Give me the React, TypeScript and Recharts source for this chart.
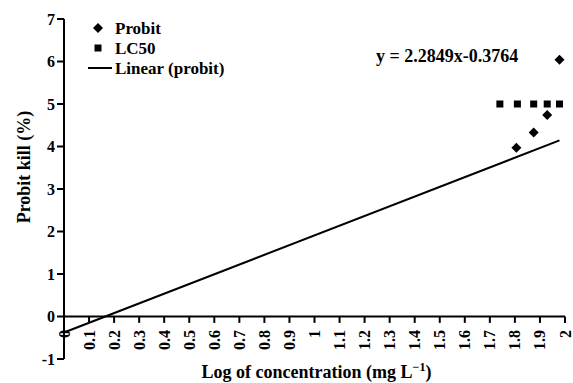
import { Legend, ReferenceDot, ReferenceLine, Scatter, ScatterChart, XAxis, YAxis } from 'recharts';

const FONT = '"Liberation Serif", "Times New Roman", serif';

// log10 of concentrations and the probit kill
const probitLogConc = [1.806, 1.875, 1.929, 1.978];
const probitKill = [3.97, 4.33, 4.74, 6.04];

const lc50LogConc = [1.74, 1.81, 1.875, 1.929, 1.978];
const lc50Probit = [5, 5, 5, 5, 5];

// end points of the fitted trend line y = 2.2849x - 0.3764
const trendLogConc = [0, 1.978];
const trendProbit = [-0.376, 4.143];

const seriesNames = ['Probit', 'LC50', 'Linear (probit)'];

const xTicks = [0, 0.1, 0.2, 0.3, 0.4, 0.5, 0.6, 0.7, 0.8, 0.9, 1, 1.1, 1.2, 1.3, 1.4, 1.5, 1.6, 1.7, 1.8, 1.9, 2];
const yTicks = [-1, 0, 1, 2, 3, 4, 5, 6, 7];

const probitData = probitLogConc.map((x, i) => ({ x, y: probitKill[i] }));
const lc50Data = lc50LogConc.map((x, i) => ({ x, y: lc50Probit[i] }));
const trendData = trendLogConc.map((x, i) => ({ x, y: trendProbit[i] }));

const Diamond = ({ cx, cy }: any) => (
  <path d={`M${cx},${cy - 5}L${cx + 5},${cy}L${cx},${cy + 5}L${cx - 5},${cy}Z`} fill="#000" />
);

const Square = ({ cx, cy }: any) => <rect x={cx - 3.5} y={cy - 3.5} width={7} height={7} fill="#000" />;

const XTickLabel = ({ viewBox, text }: any) => {
  if (!viewBox) return null;
  const x = viewBox.x;
  const y = viewBox.y + viewBox.height + 7;
  return (
    <text
      x={x}
      y={y}
      transform={`rotate(-90 ${x} ${y})`}
      textAnchor="end"
      dominantBaseline="central"
      fontFamily={FONT}
      fontSize={16}
      fontWeight="bold"
      fill="#000"
    >
      {text}
    </text>
  );
};

const XTitle = ({ viewBox }: any) => {
  const cx = viewBox.x + viewBox.width / 2 + 2;
  return (
    <text x={cx} y={378} textAnchor="middle" fontFamily={FONT} fontSize={18} fontWeight="bold" fill="#000">
      Log of concentration (mg L
      <tspan dy={-7} fontSize={12}>−1</tspan>
      <tspan dy={7}>)</tspan>
    </text>
  );
};

const YTitle = ({ viewBox }: any) => {
  const cy = viewBox.y + viewBox.height / 2 - 22;
  return (
    <text
      x={24}
      y={cy}
      transform={`rotate(-90 24 ${cy})`}
      textAnchor="middle"
      dominantBaseline="central"
      fontFamily={FONT}
      fontSize={18}
      fontWeight="bold"
      fill="#000"
    >
      Probit kill (%)
    </text>
  );
};

const EquationLabel = ({ viewBox }: any) => (
  <text
    x={viewBox.x}
    y={viewBox.y + viewBox.height / 2}
    textAnchor="middle"
    dominantBaseline="central"
    fontFamily={FONT}
    fontSize={18}
    fontWeight="bold"
    fill="#000"
  >
    y = 2.2849x-0.3764
  </text>
);

const renderLegend = () => (
  <svg width={170} height={62}>
    {seriesNames.map((name, i) => {
      const y = 10 + i * 20;
      let icon;
      if (i === 0) icon = <Diamond cx={10} cy={y} />;
      else if (i === 1) icon = <Square cx={10} cy={y} />;
      else icon = <line x1={0} x2={24} y1={y} y2={y} stroke="#000" strokeWidth={2} />;
      return (
        <g key={name}>
          {icon}
          <text x={27} y={y} dominantBaseline="central" fontFamily={FONT} fontSize={17} fontWeight="bold" fill="#000">
            {name}
          </text>
        </g>
      );
    })}
  </svg>
);

export default function App() {
  return (
    <div style={{ position: 'absolute', left: 0, top: 0, background: '#fff' }}>
      <ScatterChart width={573} height={383} margin={{ top: 19, right: 8, bottom: 0, left: 0 }}>
        <XAxis
          type="number"
          dataKey="x"
          domain={[0, 2]}
          ticks={xTicks}
          height={24}
          axisLine={false}
          tickLine={false}
          tick={false}
          label={<XTitle />}
        />
        <YAxis
          type="number"
          dataKey="y"
          domain={[-1, 7]}
          ticks={yTicks}
          width={64}
          axisLine={{ stroke: '#000', strokeWidth: 2 }}
          tickLine={{ stroke: '#000', strokeWidth: 2 }}
          tickSize={7}
          tick={{ fill: '#000', fontSize: 16, fontFamily: FONT, fontWeight: 'bold' }}
          label={<YTitle />}
        />
        <ReferenceLine y={0} stroke="#000" strokeWidth={2} />
        {xTicks.map((t) => (
          <ReferenceLine
            key={t}
            segment={[
              { x: t, y: 0 },
              { x: t, y: -0.15 },
            ]}
            stroke="#000"
            strokeWidth={2}
            ifOverflow="visible"
            label={<XTickLabel text={String(t)} />}
          />
        ))}
        <ReferenceDot x={1.529} y={6.12} r={0} ifOverflow="visible" label={<EquationLabel />} />
        <Scatter name={seriesNames[0]} data={probitData} shape={<Diamond />} isAnimationActive={false} />
        <Scatter name={seriesNames[1]} data={lc50Data} shape={<Square />} isAnimationActive={false} />
        <Scatter
          name={seriesNames[2]}
          data={trendData}
          line={{ stroke: '#000', strokeWidth: 2 }}
          shape={() => null}
          isAnimationActive={false}
        />
        <Legend
          layout="vertical"
          verticalAlign="middle"
          align="center"
          content={renderLegend}
          wrapperStyle={{ top: 18, left: 88, width: 170 }}
        />
      </ScatterChart>
    </div>
  );
}
